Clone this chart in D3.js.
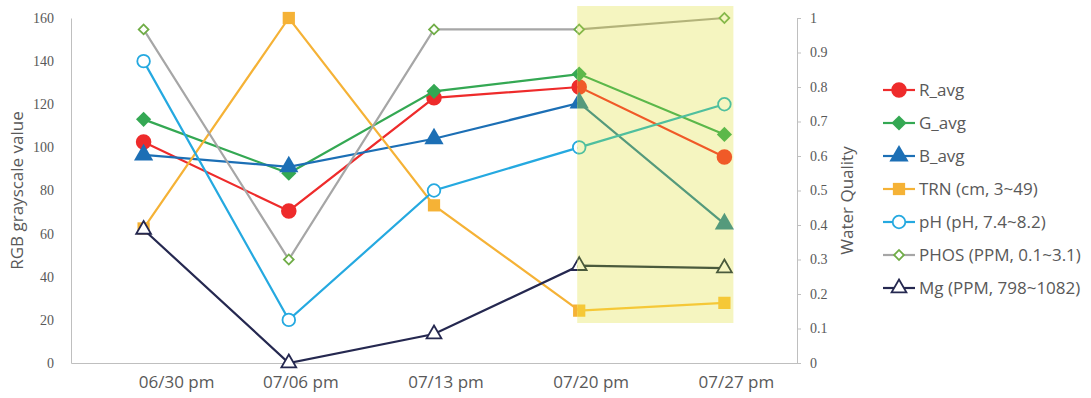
<!DOCTYPE html>
<html>
<head>
<meta charset="utf-8">
<script src="https://cdn.jsdelivr.net/npm/d3@7"></script>
<style>
  body { margin: 0; background: #fff; }
  svg text { fill: #595959; }
</style>
</head>
<body>
<div id="chart"></div>
<script>
var dates = ["06/30 pm", "07/06 pm", "07/13 pm", "07/20 pm", "07/27 pm"];
var leftTicks = [0, 20, 40, 60, 80, 100, 120, 140, 160];
var rightTicks = [0, 0.1, 0.2, 0.3, 0.4, 0.5, 0.6, 0.7, 0.8, 0.9, 1];

// left axis (RGB grayscale value)
var rAvg = [102.5, 70.5, 123, 128, 95.5];
var gAvg = [113, 88, 126, 134, 106];
var bAvg = [96.5, 91, 104, 120.6, 64.5];
// right axis (water quality, normalised)
var trn = [0.39, 1.0, 0.457, 0.152, 0.174];
var ph = [0.875, 0.125, 0.5, 0.625, 0.75];
var phos = [0.967, 0.3, 0.967, 0.967, 1.0];
var mg = [0.387, 0, 0.084, 0.282, 0.275];

var highlightFrom = "07/20 pm", highlightTo = "07/27 pm";

var width = 1091, height = 398;
var mLeft = 71, mRight = 797, mTop = 18, mBottom = 363;
var bandColor = "#f5f5c0";

var svg = d3.select("#chart").append("svg")
    .attr("width", width)
    .attr("height", height)
    .style("font-family", "'Open Sans', sans-serif");

var x = d3.scaleBand().domain(dates).range([mLeft, mRight]);
var cx = function(d) { return x(d) + x.bandwidth() / 2; };
var yL = d3.scaleLinear().domain([0, 160]).range([mBottom, mTop]);
var yR = d3.scaleLinear().domain([0, 1]).range([mBottom, mTop]);

// highlight band (behind), marks inside it get tinted colours
var hx0 = cx(highlightFrom) - 2, hx1 = cx(highlightTo) + 9, hy0 = 6, hy1 = 323;
svg.append("rect")
    .attr("x", hx0).attr("y", hy0)
    .attr("width", hx1 - hx0).attr("height", hy1 - hy0)
    .attr("fill", bandColor);

var defs = svg.append("defs");
var clipOut = defs.append("clipPath").attr("id", "clip-out");
clipOut.append("rect").attr("x", 0).attr("y", 0).attr("width", hx0).attr("height", height);
clipOut.append("rect").attr("x", hx1).attr("y", 0).attr("width", width - hx1).attr("height", height);
clipOut.append("rect").attr("x", hx0).attr("y", hy1).attr("width", hx1 - hx0).attr("height", height - hy1);
clipOut.append("rect").attr("x", hx0).attr("y", 0).attr("width", hx1 - hx0).attr("height", hy0);
defs.append("clipPath").attr("id", "clip-in").append("rect")
    .attr("x", hx0).attr("y", hy0).attr("width", hx1 - hx0).attr("height", hy1 - hy0);

// left axis
var gl = svg.append("g").attr("transform", "translate(" + mLeft + ",0)")
    .call(d3.axisLeft(yL).tickValues(leftTicks).tickSize(0).tickPadding(17));
gl.select(".domain").attr("stroke", "#bfbfbf");
gl.selectAll("text").style("font-family", "'Liberation Serif', serif").style("font-size", "14px").attr("fill", "#6e6e6e");

// right axis
var gr = svg.append("g").attr("transform", "translate(" + mRight + ",0)")
    .call(d3.axisRight(yR).tickValues(rightTicks).tickSize(4).tickPadding(9)
        .tickFormat(function(d) { return d === 0 || d === 1 ? d : d3.format(".1f")(d); }));
gr.select(".domain").attr("stroke", "#bfbfbf");
gr.selectAll("line").attr("stroke", "#bfbfbf");
gr.selectAll("text").style("font-family", "'Liberation Serif', serif").style("font-size", "14px").attr("fill", "#6e6e6e");

// bottom axis (labels sit a little right of their points, first one more so)
var gb = svg.append("g").attr("transform", "translate(0," + mBottom + ")")
    .call(d3.axisBottom(x).tickSize(0).tickPadding(13).tickSizeOuter(0));
gb.select(".domain").attr("stroke", "#bfbfbf");
gb.selectAll("text")
    .attr("dx", function(d, i) { return i === 0 ? 33 : 12; })
    .style("font-family", "'Open Sans', sans-serif").style("font-size", "17px").attr("fill", "#767676");

// axis titles
svg.append("text")
    .attr("transform", "translate(23," + ((mTop + mBottom) / 2) + ") rotate(-90)")
    .attr("text-anchor", "middle")
    .style("font-size", "17px")
    .text("RGB grayscale value");
svg.append("text")
    .attr("transform", "translate(853," + ((mTop + mBottom) / 2 + 10) + ") rotate(-90)")
    .attr("text-anchor", "middle")
    .style("font-size", "17px")
    .text("Water Quality");

var series = [
  { name: "R_avg", values: rAvg, y: yL, line: "#ee2b2b", stroke: "#ee2b2b", fill: "#ee2b2b", shape: d3.symbolCircle, size: 190, rot: 0,
    bLine: "#f05a28", bStroke: "#f05a28", bFill: "#f05a28" },
  { name: "G_avg", values: gAvg, y: yL, line: "#34a853", stroke: "#34a853", fill: "#34a853", shape: d3.symbolSquare, size: 115, rot: 45,
    bLine: "#5cb84a", bStroke: "#5cb84a", bFill: "#5cb84a" },
  { name: "B_avg", values: bAvg, y: yL, line: "#1c6fb5", stroke: "#1c6fb5", fill: "#1c6fb5", shape: d3.symbolTriangle, size: 160, rot: 0,
    bLine: "#559a7c", bStroke: "#559a7c", bFill: "#559a7c" },
  { name: "TRN (cm, 3~49)", values: trn, y: yR, line: "#f5b236", stroke: "#f5b236", fill: "#f5b236", shape: d3.symbolSquare, size: 150, rot: 0,
    bLine: "#f5c837", bStroke: "#f5c837", bFill: "#f5c837" },
  { name: "pH (pH, 7.4~8.2)", values: ph, y: yR, line: "#25a9e0", stroke: "#25a9e0", fill: "#ffffff", shape: d3.symbolCircle, size: 125, rot: 0,
    bLine: "#4fbf9e", bStroke: "#4fbf9e", bFill: bandColor },
  { name: "PHOS (PPM, 0.1~3.1)", values: phos, y: yR, line: "#a6a6a6", stroke: "#70ad47", fill: "#ffffff", shape: d3.symbolSquare, size: 48, rot: 45,
    bLine: "#b3b37a", bStroke: "#86b84a", bFill: bandColor },
  { name: "Mg (PPM, 798~1082)", values: mg, y: yR, line: "#252850", stroke: "#252850", fill: "#ffffff", shape: d3.symbolTriangle, size: 95, rot: 0,
    bLine: "#4a5a3c", bStroke: "#4a5a3c", bFill: bandColor }
];

function drawSeries(g, s, lineC, strokeC, fillC) {
  var pts = s.values.map(function(v, i) { return [cx(dates[i]), s.y(v)]; });
  g.append("path")
      .attr("d", d3.line()(pts))
      .attr("fill", "none")
      .attr("stroke", lineC)
      .attr("stroke-width", 2.2);
  g.selectAll(null).data(pts).enter().append("path")
      .attr("transform", function(d) { return "translate(" + d[0] + "," + d[1] + ") rotate(" + s.rot + ")"; })
      .attr("d", d3.symbol().type(s.shape).size(s.size))
      .attr("fill", fillC)
      .attr("stroke", strokeC)
      .attr("stroke-width", s.fill === "#ffffff" ? 1.8 : 0);
}

series.forEach(function(s) {
  drawSeries(svg.append("g").attr("clip-path", "url(#clip-out)"), s, s.line, s.stroke, s.fill);
  drawSeries(svg.append("g").attr("clip-path", "url(#clip-in)"), s, s.bLine, s.bStroke, s.bFill);
});

// legend
var legend = svg.append("g").attr("transform", "translate(883,90)");
var row = legend.selectAll(".row").data(series).enter().append("g")
    .attr("class", "row")
    .attr("transform", function(d, i) { return "translate(0," + (i * 33) + ")"; });
row.append("line")
    .attr("x1", 0).attr("x2", 32)
    .attr("stroke", function(d) { return d.line; })
    .attr("stroke-width", 2.2);
row.append("path")
    .attr("transform", function(d) { return "translate(16,0) rotate(" + d.rot + ")"; })
    .attr("d", function(d) { return d3.symbol().type(d.shape).size(d.size)(); })
    .attr("fill", function(d) { return d.fill; })
    .attr("stroke", function(d) { return d.stroke; })
    .attr("stroke-width", function(d) { return d.fill === "#ffffff" ? 1.8 : 0; });
row.append("text")
    .attr("x", 36)
    .attr("dy", "0.35em")
    .style("font-size", "17px")
    .text(function(d) { return d.name; });
</script>
</body>
</html>
